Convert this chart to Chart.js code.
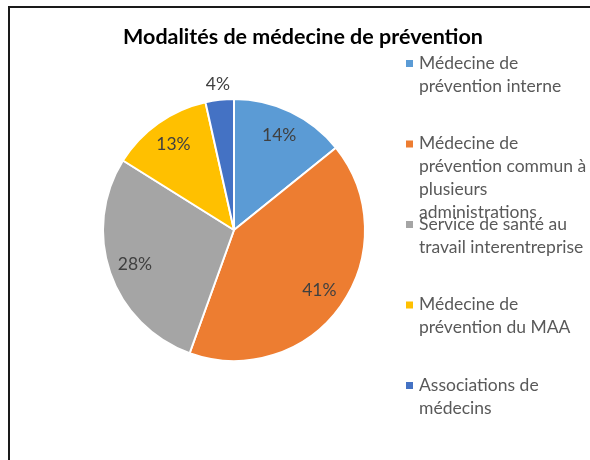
<!DOCTYPE html>
<html>
<head>
<meta charset="utf-8">
<script src="https://cdn.jsdelivr.net/npm/chart.js@4.4.0/dist/chart.umd.min.js"></script>
<style>
  html, body { margin: 0; padding: 0; background: #fff; }
  #wrap { position: relative; width: 590px; height: 460px; }
</style>
</head>
<body>
<div id="wrap"><canvas id="modalitesChart"></canvas></div>
<script>
  // Modalités de médecine de prévention - pie chart
  var chartTitle = 'Modalités de médecine de prévention';
  var categories = [
    ['Médecine de', 'prévention interne'],
    ['Médecine de', 'prévention commun à', 'plusieurs', 'administrations'],
    ['Service de santé au', 'travail interentreprise'],
    ['Médecine de', 'prévention du MAA'],
    ['Associations de', 'médecins']
  ];
  // shares in %
  var shares = [14.2, 41.3, 28.4, 12.6, 3.5];
  var sliceColors = ['#5B9BD5', '#ED7D31', '#A5A5A5', '#FFC000', '#4472C4'];

  var FONT = 'Lato, "Liberation Sans", sans-serif';

  // left/top frame of the chart box
  var framePlugin = {
    id: 'frame',
    beforeDraw: function (chart) {
      var c = chart.ctx;
      c.save();
      c.strokeStyle = '#1a1a1a';
      c.lineWidth = 2;
      c.beginPath();
      c.moveTo(9, 460);
      c.lineTo(9, 7);
      c.lineTo(590, 7);
      c.stroke();
      c.restore();
    }
  };

  var titlePlugin = {
    id: 'sideTitle',
    afterDraw: function (chart) {
      var c = chart.ctx;
      c.save();
      c.font = 'bold 21.5px ' + FONT;
      c.fillStyle = '#000';
      c.textAlign = 'center';
      c.textBaseline = 'middle';
      c.fillText(chartTitle, 303, 37);
      c.restore();
    }
  };

  var legendPlugin = {
    id: 'sideLegend',
    afterDraw: function (chart) {
      var c = chart.ctx;
      var labels = chart.data.labels;
      var colors = chart.data.datasets[0].backgroundColor;
      c.save();
      c.font = '17.5px ' + FONT;
      c.textAlign = 'left';
      c.textBaseline = 'middle';
      for (var i = 0; i < labels.length; i++) {
        var y0 = 63 + i * 80.5;
        c.fillStyle = colors[i];
        c.fillRect(406, y0 - 3, 7, 7);
        c.fillStyle = '#595959';
        for (var j = 0; j < labels[i].length; j++) {
          c.fillText(labels[i][j], 419, y0 + j * 23);
        }
      }
      c.restore();
    }
  };

  var pctPlugin = {
    id: 'pctLabels',
    afterDatasetsDraw: function (chart) {
      var c = chart.ctx;
      var meta = chart.getDatasetMeta(0);
      var vals = chart.data.datasets[0].data;
      var total = vals.reduce(function (a, b) { return a + b; }, 0);
      c.save();
      c.font = '17.5px ' + FONT;
      c.fillStyle = '#404040';
      c.textAlign = 'center';
      c.textBaseline = 'middle';
      meta.data.forEach(function (arc, i) {
        var p = arc.getProps(['x', 'y', 'startAngle', 'endAngle', 'outerRadius'], true);
        var mid = (p.startAngle + p.endAngle) / 2;
        var pct = vals[i] / total * 100;
        var r = pct < 5 ? p.outerRadius * 1.12 : p.outerRadius * 0.8;
        c.fillText(Math.round(pct) + '%', p.x + Math.cos(mid) * r, p.y + Math.sin(mid) * r);
      });
      c.restore();
    }
  };

  var ctx = document.getElementById('modalitesChart');
  new Chart(ctx, {
    type: 'pie',
    data: {
      labels: categories,
      datasets: [{
        data: shares,
        backgroundColor: sliceColors,
        borderColor: '#ffffff',
        borderWidth: 2,
        radius: 131
      }]
    },
    options: {
      responsive: true,
      maintainAspectRatio: false,
      animation: false,
      layout: {
        padding: { left: 104, right: 226, top: 100, bottom: 100 }
      },
      plugins: {
        legend: { display: false },
        tooltip: { enabled: false },
        title: { display: false }
      }
    },
    plugins: [framePlugin, titlePlugin, legendPlugin, pctPlugin]
  });
</script>
</body>
</html>
